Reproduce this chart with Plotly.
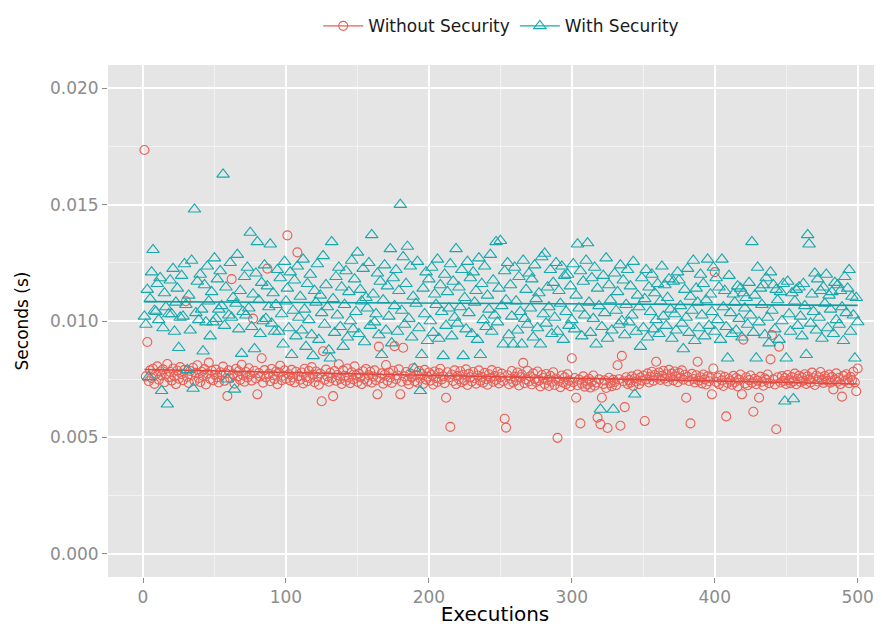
import numpy as np
import plotly.graph_objects as go

# Executions 1..500
executions = list(range(1, 501))

# Execution time without security (milliseconds)
without_ms = [
    17.35, 7.62, 9.10, 7.41, 7.88, 7.55, 7.95, 7.30, 7.72, 8.05,
    7.48, 7.83, 7.66, 7.92, 7.37, 7.70, 8.15, 7.58, 7.81, 7.44,
    7.96, 7.63, 7.29, 7.87, 7.52, 8.02, 7.71, 7.46, 7.90, 10.85,
    7.60, 7.34, 7.85, 7.68, 7.99, 7.42, 7.77, 8.10, 7.55, 7.38,
    7.82, 7.64, 7.93, 7.27, 7.74, 8.21, 7.51, 7.86, 7.45, 7.69,
    7.91, 7.58, 7.36, 7.80, 7.67, 8.04, 7.43, 7.75, 6.78, 7.88,
    7.54, 11.80, 7.72, 7.31, 7.95, 7.62, 7.84, 7.47, 8.12, 7.66,
    7.39, 7.81, 7.57, 7.97, 7.70, 7.44, 10.10, 7.86, 7.53, 6.85,
    7.76, 7.62, 8.40, 7.35, 7.89, 7.58, 12.25, 7.73, 7.41, 7.94,
    7.67, 7.50, 7.83, 7.28, 7.78, 8.08, 7.46, 7.65, 7.88, 7.52,
    13.68, 7.71, 7.44, 7.90, 7.57, 7.36, 7.82, 12.95, 7.63, 7.48,
    7.79, 7.32, 7.95, 7.60, 7.41, 7.86, 7.54, 8.02, 7.69, 7.37,
    7.83, 7.58, 7.26, 7.74, 6.55, 8.70, 7.47, 7.91, 7.62, 7.39,
    7.77, 7.55, 6.77, 7.85, 7.43, 7.68, 8.14, 7.51, 7.30, 7.88,
    7.64, 7.42, 7.96, 7.57, 7.33, 7.80, 7.49, 8.05, 7.66, 7.38,
    7.73, 7.58, 7.29, 7.84, 7.51, 7.94, 7.40, 7.67, 7.82, 7.35,
    7.61, 7.88, 7.46, 6.85, 8.90, 7.54, 7.75, 7.31, 7.69, 8.11,
    7.43, 7.79, 7.57, 7.34, 7.86, 8.92, 7.50, 7.66, 7.92, 6.85,
    7.39, 8.85, 7.62, 7.81, 7.45, 7.28, 7.74, 7.58, 7.97, 7.41,
    7.67, 7.36, 7.85, 7.53, 7.72, 7.30, 7.90, 7.48, 7.61, 7.79,
    7.44, 7.68, 7.27, 7.83, 7.55, 7.38, 7.76, 7.95, 7.49, 7.62,
    7.33, 6.70, 7.80, 7.57, 5.45, 7.70, 7.42, 7.88, 7.29, 7.64,
    7.51, 7.84, 7.37, 7.69, 7.46, 7.92, 7.25, 7.73, 7.58, 7.40,
    7.81, 7.54, 7.31, 7.66, 7.88, 7.43, 7.60, 7.35, 7.77, 7.50,
    7.26, 7.71, 7.56, 7.89, 7.39, 7.63, 7.47, 7.82, 7.32, 7.58,
    7.74, 7.41, 5.80, 5.42, 7.67, 7.28, 7.52, 7.85, 7.36, 7.61,
    7.45, 7.79, 7.23, 7.58, 7.70, 8.20, 7.33, 7.49, 7.86, 7.40,
    7.62, 7.27, 7.75, 7.51, 7.38, 7.83, 7.44, 7.19, 7.68, 7.55,
    7.30, 7.72, 7.47, 7.21, 7.64, 7.39, 7.80, 7.25, 7.53, 4.98,
    7.42, 7.16, 7.66, 7.35, 7.58, 7.28, 7.71, 7.44, 7.20, 8.40,
    7.37, 7.55, 6.70, 7.24, 7.48, 5.60, 7.31, 7.62, 7.18, 7.43,
    7.27, 7.52, 7.14, 7.40, 7.66, 7.22, 7.35, 5.85, 7.49, 5.57,
    6.70, 7.29, 7.45, 7.12, 5.40, 7.56, 7.33, 7.20, 7.47, 7.38,
    7.24, 8.10, 7.50, 5.50, 8.50, 7.41, 6.30, 7.58, 7.30, 7.46,
    7.35, 7.62, 7.21, 7.53, 7.40, 7.70, 7.28, 7.57, 7.44, 7.66,
    5.70, 7.49, 7.75, 7.36, 7.61, 7.82, 7.43, 7.68, 8.25, 7.55,
    7.79, 7.47, 7.64, 7.86, 7.52, 7.71, 7.40, 7.90, 7.58, 7.74,
    7.45, 7.83, 7.62, 7.37, 7.77, 7.56, 7.88, 7.48, 7.69, 6.70,
    7.60, 7.42, 5.60, 7.73, 7.51, 7.36, 7.67, 8.25, 7.44, 7.58,
    7.32, 7.70, 7.49, 7.27, 7.62, 7.41, 7.55, 6.85, 7.96, 12.10,
    7.38, 7.57, 7.29, 7.66, 7.45, 7.21, 7.60, 5.90, 7.34, 7.51,
    7.43, 7.26, 7.64, 7.37, 7.55, 7.19, 7.48, 7.70, 6.85, 9.20,
    7.31, 7.58, 7.24, 7.46, 7.66, 7.35, 6.10, 7.52, 7.28, 7.44,
    6.70, 7.61, 7.39, 7.22, 7.54, 7.47, 7.70, 7.33, 8.35, 9.40,
    7.49, 7.27, 5.35, 7.58, 8.90, 7.36, 7.63, 7.42, 7.55, 7.30,
    7.68, 7.45, 7.33, 7.59, 7.41, 7.74, 7.28, 7.52, 7.65, 7.38,
    7.57, 7.44, 7.71, 7.30, 7.62, 7.49, 7.36, 7.78, 7.54, 7.25,
    7.66, 7.40, 7.58, 7.81, 7.47, 7.34, 7.63, 7.52, 7.43, 7.70,
    7.35, 7.59, 7.06, 7.48, 7.75, 7.39, 7.56, 7.29, 6.75, 7.64,
    7.42, 7.71, 7.50, 7.33, 7.60, 7.46, 7.82, 7.37, 6.98, 7.96,
]

# Execution time with security (milliseconds)
with_ms = [
    10.20, 9.85, 11.35, 7.60, 10.95, 12.10, 13.06, 10.45, 10.40, 11.60,
    10.05, 11.85, 7.00, 9.70, 11.20, 10.60, 6.42, 10.30, 11.75, 10.30,
    12.25, 9.55, 10.80, 11.40, 8.85, 10.15, 11.95, 10.20, 12.45, 10.70,
    7.90, 11.10, 9.60, 12.60, 7.10, 14.80, 10.35, 11.70, 10.05, 12.00,
    10.50, 8.70, 11.55, 9.95, 12.35, 10.85, 9.35, 11.25, 9.95, 12.70,
    10.10, 11.80, 10.50, 12.15, 10.65, 16.30, 9.80, 11.45, 7.50, 10.25,
    12.50, 10.15, 11.00, 7.06, 10.75, 12.85, 9.65, 11.30, 8.60, 10.40,
    11.90, 10.25, 12.30, 10.55, 13.80, 9.75, 11.15, 8.80, 12.05, 13.40,
    10.90, 9.45, 11.65, 10.00, 12.40, 10.10, 11.50, 10.60, 13.30, 9.90,
    11.20, 9.55, 10.70, 12.20, 9.55, 11.85, 10.30, 9.00, 12.55, 10.85,
    11.40, 9.70, 12.10, 8.55, 10.45, 11.75, 9.35, 12.35, 10.15, 11.05,
    9.60, 12.65, 10.50, 8.90, 11.60, 10.05, 12.00, 9.40, 8.50, 11.30,
    10.80, 12.45, 9.20, 11.10, 10.35, 12.80, 9.85, 11.55, 10.60, 8.75,
    8.40, 13.40, 10.95, 9.50, 11.90, 10.25, 12.30, 9.75, 11.45, 8.90,
    10.70, 12.15, 9.30, 11.25, 10.00, 12.60, 9.65, 11.80, 10.40, 12.95,
    9.45, 11.35, 10.85, 12.25, 9.10, 11.00, 10.55, 12.50, 9.80, 13.70,
    11.15, 9.95, 10.30, 12.05, 9.40, 11.70, 8.55, 10.90, 12.40, 9.60,
    11.50, 10.20, 13.10, 9.05, 11.85, 10.65, 12.20, 9.55, 11.30, 15.00,
    10.45, 12.75, 9.85, 11.60, 13.20, 10.10, 12.35, 9.30, 11.05, 7.96,
    10.75, 12.55, 9.70, 7.00, 8.55, 11.40, 10.30, 12.10, 9.15, 11.80,
    10.00, 12.30, 9.50, 11.15, 10.70, 12.65, 9.25, 11.55, 10.40, 8.50,
    12.00, 9.80, 11.25, 10.55, 12.45, 9.35, 11.70, 10.15, 13.10, 9.90,
    11.45, 10.60, 12.20, 8.50, 11.00, 9.65, 12.55, 10.35, 11.85, 9.45,
    12.10, 10.80, 11.30, 9.20, 12.70, 8.55, 11.60, 10.05, 12.35, 9.75,
    11.10, 10.50, 12.85, 9.55, 11.75, 10.25, 13.40, 9.95, 11.40, 13.45,
    10.65, 9.00, 12.15, 10.90, 12.50, 9.40, 11.55, 10.20, 9.00, 12.30,
    10.85, 9.60, 11.90, 10.40, 9.00, 12.60, 10.10, 11.35, 9.85, 12.05,
    10.55, 11.80, 9.30, 12.40, 10.95, 9.70, 11.20, 9.00, 12.75, 10.30,
    12.90, 9.90, 11.45, 10.60, 12.20, 9.45, 11.65, 10.15, 12.50, 9.55,
    11.30, 10.75, 12.35, 9.20, 11.95, 10.40, 12.00, 9.80, 11.50, 10.05,
    12.45, 9.65, 11.10, 13.30, 10.55, 12.15, 9.35, 11.70, 10.25, 12.60,
    13.35, 10.80, 9.50, 11.85, 10.10, 12.30, 9.00, 11.40, 10.65, 6.20,
    9.75, 11.95, 10.35, 12.70, 9.25, 11.55, 10.90, 9.60, 6.20, 12.05,
    10.45, 11.25, 9.85, 12.40, 10.00, 11.75, 9.40, 10.70, 12.20, 9.95,
    11.50, 10.25, 12.55, 6.85, 9.55, 11.10, 10.60, 8.90, 11.85, 9.70,
    10.95, 12.20, 9.30, 11.45, 10.40, 12.00, 9.65, 11.20, 10.05, 11.60,
    9.45, 10.85, 12.35, 10.20, 11.55, 9.80, 11.00, 11.80, 10.50, 9.25,
    11.70, 10.30, 9.60, 12.10, 11.75, 10.65, 9.90, 8.80, 11.35, 10.15,
    12.25, 9.50, 11.05, 10.45, 12.60, 9.15, 11.40, 10.80, 9.70, 12.00,
    10.25, 11.60, 9.35, 10.90, 12.65, 9.80, 11.15, 10.40, 12.30, 9.55,
    11.85, 10.05, 11.45, 9.20, 12.65, 10.60, 11.30, 9.75, 8.40, 11.95,
    10.35, 9.45, 11.15, 10.80, 9.60, 11.50, 10.10, 11.40, 9.30, 11.20,
    10.55, 11.00, 9.85, 11.65, 10.25, 13.40, 9.50, 11.10, 8.40, 12.30,
    9.95, 11.40, 10.70, 11.55, 9.40, 11.85, 10.15, 9.05, 12.10, 10.45,
    11.55, 9.65, 11.35, 10.90, 9.20, 11.25, 10.00, 11.60, 6.55, 8.40,
    11.70, 10.30, 9.55, 11.20, 6.65, 10.85, 11.35, 9.80, 11.45, 10.20,
    9.35, 11.60, 10.65, 8.55, 13.70, 13.30, 9.90, 11.15, 10.40, 12.05,
    9.60, 11.80, 10.15, 11.30, 9.25, 11.45, 10.75, 12.00, 9.70, 11.10,
    10.50, 11.25, 9.45, 11.65, 10.05, 11.55, 9.85, 11.30, 10.60, 9.15,
    11.90, 10.35, 11.40, 12.20, 9.55, 11.05, 10.25, 8.40, 11.00, 9.96,
]

series_names = ["Without Security", "With Security"]
y_ticks = [0.000, 0.005, 0.010, 0.015, 0.020]
x_ticks = [0, 100, 200, 300, 400, 500]

RED = "#EA5F55"
TEAL = "#17A9AD"
RED_LINE = "#E0483E"
TEAL_LINE = "#0E9EA2"

x = np.array(executions, dtype=float)
y_without = np.array(without_ms) / 1000.0
y_with = np.array(with_ms) / 1000.0

fig = go.Figure()

for yv, name, col, lcol, sym, size in [
    (y_without, series_names[0], RED, RED_LINE, "circle-open", 9),
    (y_with, series_names[1], TEAL, TEAL_LINE, "triangle-up-open", 11),
]:
    fig.add_trace(go.Scatter(
        x=x, y=yv, mode="markers", name=name, showlegend=False,
        marker=dict(symbol=sym, size=size, color=col, line=dict(width=1.1, color=col)),
    ))
    slope, intercept = np.polyfit(x, yv, 1)
    xl = np.array([x.min(), x.max()])
    fig.add_trace(go.Scatter(
        x=xl, y=slope * xl + intercept, mode="lines", showlegend=False,
        line=dict(color=lcol, width=1.6), hoverinfo="skip",
    ))

# legend entries (line + marker key)
for name, col, sym, size in [
    (series_names[0], RED, "circle-open", 9),
    (series_names[1], TEAL, "triangle-up-open", 11),
]:
    fig.add_trace(go.Scatter(
        x=[None], y=[None], mode="lines+markers", name=name,
        marker=dict(symbol=sym, size=size, color=col, line=dict(width=1.1, color=col)),
        line=dict(color=col, width=1.4),
    ))

FONT = "DejaVu Sans, Liberation Sans, Arial, sans-serif"

# The page body adds an 8px offset, so the figure is 8px smaller than the window
fig.update_layout(
    width=874, height=618,
    margin=dict(l=100, r=0, t=53, b=49),
    paper_bgcolor="white",
    plot_bgcolor="#E5E5E5",
    font=dict(family=FONT, color="#000000"),
    showlegend=True,
    legend=dict(
        orientation="h", x=0.508, xanchor="center", y=1.0756, yanchor="middle",
        font=dict(size=17, color="#1A1A1A", family=FONT),
        bgcolor="rgba(0,0,0,0)", itemwidth=40, tracegroupgap=0,
    ),
    xaxis=dict(
        range=[-24.5, 517],
        tickmode="array", tickvals=x_ticks, ticktext=[str(v) for v in x_ticks],
        showgrid=True, gridcolor="#FFFFFF", gridwidth=1.8,
        minor=dict(dtick=50, tick0=0, showgrid=True, gridcolor="#F2F2F2", gridwidth=1, ticks=""),
        zeroline=False, showline=False,
        ticks="outside", ticklen=5, tickcolor="#8C8C8C", tickwidth=1,
        tickfont=dict(size=17, color="#8C8C8C", family=FONT),
        title=dict(text="Executions", font=dict(size=20, color="#000000", family=FONT), standoff=2),
    ),
    yaxis=dict(
        range=[-0.001, 0.021],
        tickmode="array", tickvals=y_ticks, ticktext=[f"{v:.3f}" for v in y_ticks],
        showgrid=True, gridcolor="#FFFFFF", gridwidth=1.8,
        minor=dict(dtick=0.0025, tick0=0, showgrid=True, gridcolor="#F2F2F2", gridwidth=1, ticks=""),
        zeroline=False, showline=False,
        ticks="outside", ticklen=5, tickcolor="#8C8C8C", tickwidth=1,
        tickfont=dict(size=17, color="#8C8C8C", family=FONT),
        title=dict(text="Seconds (s)", font=dict(size=17, color="#000000", family=FONT), standoff=16),
    ),
)

fig.write_html("out.html")
